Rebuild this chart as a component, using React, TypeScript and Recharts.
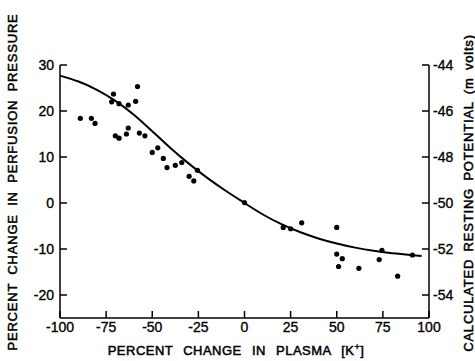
import { ComposedChart, Line, Scatter, XAxis, YAxis } from 'recharts'

const FONT = '"Liberation Sans", Arial, Helvetica, sans-serif'
const INK = '#000'

// fitted curve (percent change in plasma K+ -> percent change in perfusion pressure)
const curveX = [-100, -90, -80, -70, -60, -50, -40, -30, -20, -10, 0, 10, 20, 30, 40, 50, 60, 70, 80, 90, 96]
const curveY = [27.7, 26.4, 24.6, 22.2, 19.2, 15.6, 11.9, 8.5, 5.4, 2.6, 0, -2.5, -4.6, -6.3, -7.7, -8.8, -9.7, -10.4, -10.9, -11.3, -11.5]

// observations
const pointX = [
  -89, -83, -81, -71, -72, -68, -63, -59, -58, -70, -68, -64, -63, -57, -54,
  -50, -47, -44, -42, -37.5, -34, -30, -27.5, -25.5, 0,
  21, 25, 31, 50, 50, 53, 51, 62, 73, 74.5, 83, 91,
]
const pointY = [
  18.4, 18.4, 17.3, 23.7, 22, 21.6, 21.3, 22.1, 25.3, 14.6, 14.1, 15, 16.3, 15.2, 14.6,
  11, 12, 9.7, 7.7, 8.2, 8.8, 5.8, 4.8, 7.1, 0.1,
  -5.3, -5.6, -4.3, -5.3, -11.1, -12.1, -13.8, -14.2, -12.3, -10.3, -15.9, -11.3,
]

const xTicks = [-100, -75, -50, -25, 0, 25, 50, 75, 100]
const leftTicks = [-20, -10, 0, 10, 20, 30]
const rightTicks = [-54, -52, -50, -48, -46, -44]

const curve = curveX.map((x, i) => ({ x, y: curveY[i] }))
const points = pointX.map((x, i) => ({ x, y: pointY[i] }))

const TICK_LEN = 7
const tickText = { fontFamily: FONT, fontSize: 14, fill: INK, stroke: INK, strokeWidth: 0.35 }

function BottomTick({ x, y, payload }: any) {
  return (
    <g>
      <line x1={x} y1={y - 4} x2={x} y2={y - 4 - TICK_LEN} stroke={INK} strokeWidth={1.5} />
      <text x={x} y={y} dy="0.71em" textAnchor="middle" {...tickText}>{payload.value}</text>
    </g>
  )
}

function LeftTick({ x, y, payload }: any) {
  return (
    <g>
      <line x1={x + 6} y1={y} x2={x + 6 + TICK_LEN} y2={y} stroke={INK} strokeWidth={1.5} />
      <text x={x} y={y} dy="0.35em" textAnchor="end" {...tickText}>{payload.value}</text>
    </g>
  )
}

function RightTick({ x, y, payload }: any) {
  return (
    <g>
      <line x1={x - 4} y1={y} x2={x - 4 - TICK_LEN} y2={y} stroke={INK} strokeWidth={1.5} />
      <text x={x} y={y} dy="0.35em" textAnchor="start" {...tickText}>{payload.value}</text>
    </g>
  )
}

function Dot({ cx, cy }: any) {
  return <circle cx={cx} cy={cy} r={2.6} fill={INK} />
}

const titleStyle = { fontFamily: FONT, fontSize: 13, fill: INK, stroke: INK, strokeWidth: 0.5 }

export default function App() {
  return (
    <div style={{ position: 'absolute', left: 0, top: 0, width: 475, height: 361, background: '#fff' }}>
      <ComposedChart width={475} height={361} margin={{ top: 65, right: 6, bottom: 13, left: 20 }}>
        <XAxis
          type="number"
          dataKey="x"
          domain={[-100, 100]}
          ticks={xTicks}
          height={30}
          tickSize={0}
          tickMargin={4}
          tickLine={false}
          axisLine={{ stroke: INK, strokeWidth: 1.5 }}
          tick={<BottomTick />}
          interval={0}
        />
        <YAxis
          yAxisId="left"
          type="number"
          dataKey="y"
          domain={[-25, 30]}
          ticks={leftTicks}
          width={40}
          tickSize={0}
          tickMargin={6}
          tickLine={false}
          axisLine={{ stroke: INK, strokeWidth: 1.5 }}
          tick={<LeftTick />}
          interval={0}
          allowDataOverflow
        />
        <YAxis
          yAxisId="right"
          orientation="right"
          type="number"
          domain={[-55, -44]}
          ticks={rightTicks}
          width={40}
          tickSize={0}
          tickMargin={4}
          tickLine={false}
          axisLine={{ stroke: INK, strokeWidth: 1.5 }}
          tick={<RightTick />}
          interval={0}
          allowDataOverflow
        />
        <Line
          yAxisId="left"
          data={curve}
          dataKey="y"
          type="natural"
          stroke={INK}
          strokeWidth={2}
          dot={false}
          activeDot={false}
          isAnimationActive={false}
        />
        <Scatter yAxisId="left" data={points} dataKey="y" shape={<Dot />} isAnimationActive={false} />
        <text x={236} y={355} textAnchor="middle" letterSpacing={0.5} wordSpacing={6} {...titleStyle}>
          PERCENT CHANGE IN PLASMA [K<tspan fontSize={9} dy={-5}>+</tspan><tspan dy={5}>]</tspan>
        </text>
        <text
          x={12}
          y={182}
          transform="rotate(-90 12 182)"
          textAnchor="middle"
          dominantBaseline="central"
          letterSpacing={0.8}
          wordSpacing={4}
          {...titleStyle}
        >
          PERCENT CHANGE IN PERFUSION PRESSURE
        </text>
        <text
          x={468}
          y={193}
          transform="rotate(-90 468 193)"
          textAnchor="middle"
          dominantBaseline="central"
          letterSpacing={0.8}
          wordSpacing={3}
          {...titleStyle}
        >
          CALCULATED RESTING POTENTIAL (m volts)
        </text>
      </ComposedChart>
    </div>
  )
}
